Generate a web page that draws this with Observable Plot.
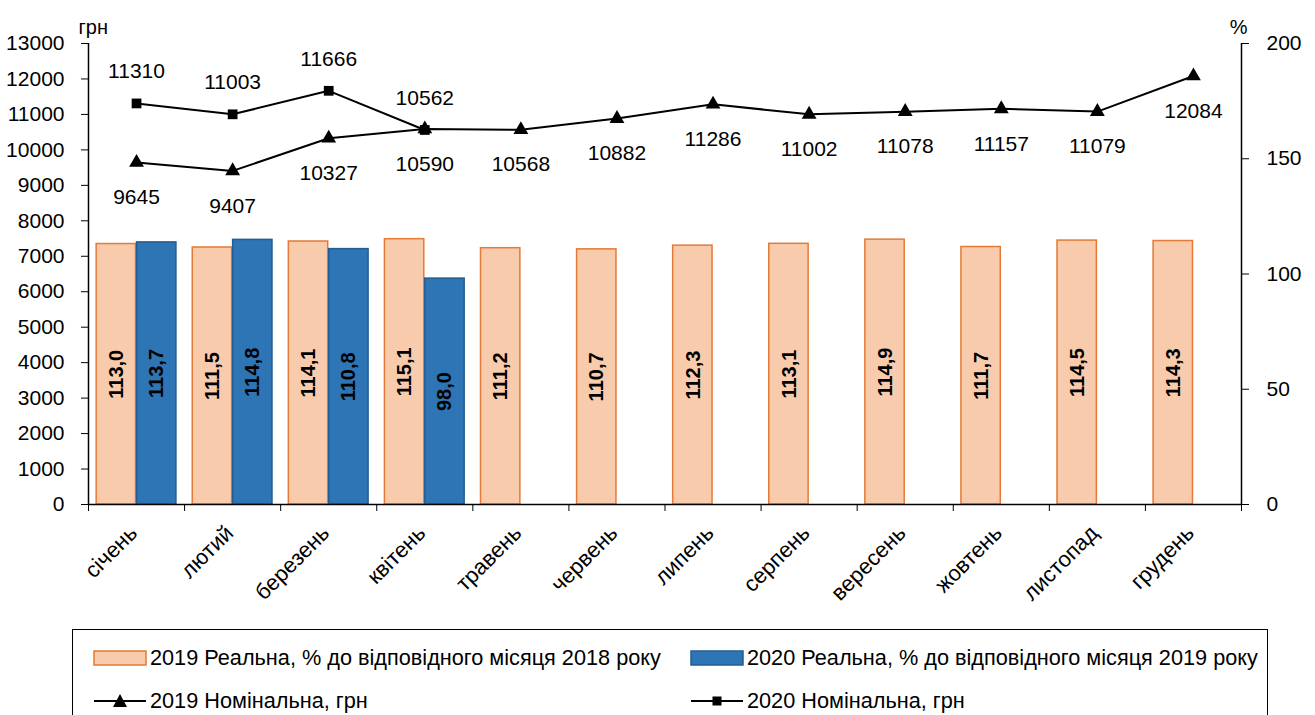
<!DOCTYPE html>
<html><head><meta charset="utf-8">
<script src="https://cdn.jsdelivr.net/npm/d3@7"></script>
<script src="https://cdn.jsdelivr.net/npm/@observablehq/plot@0.6"></script>
<style>
body{margin:0;background:#fff;font-family:"Liberation Sans",Arial,sans-serif;}
#chart svg{display:block;}
#legend{position:relative;margin-left:72px;margin-top:4px;width:1196px;height:100px;border:1.5px solid #000;border-bottom:none;box-sizing:border-box;font-size:21.7px;color:#000;}
.item{position:absolute;display:flex;align-items:center;white-space:nowrap;}
.item svg{margin-right:3px;display:block;}
</style></head><body>
<div id="chart"></div>
<div id="legend"></div>
<script>
const months = ["січень","лютий","березень","квітень","травень","червень","липень","серпень","вересень","жовтень","листопад","грудень"];
const real2019 = [113.0,111.5,114.1,115.1,111.2,110.7,112.3,113.1,114.9,111.7,114.5,114.3];
const real2020 = [113.7,114.8,110.8,98.0];
const nom2019 = [9645,9407,10327,10590,10568,10882,11286,11002,11078,11157,11079,12084];
const nom2020 = [11310,11003,11666,10562];
const leftTicks = d3.range(0, 13001, 1000);
const rightTicks = [0,50,100,150,200];
const legendLabels = ["2019 Реальна, % до відповідного місяця 2018 року","2020 Реальна, % до відповідного місяця 2019 року","2019 Номінальна, грн","2020 Номінальна, грн"];

const W = 1315, H = 625, mL = 88, mR = 74, mT = 43, mB = 121;
const k = 13000 / 200; // % -> грн on shared y scale
const step = (W - mL - mR) / months.length;
const pIn = 0.17;
const bw = step * (1 - pIn);
const c2019 = "#F8CBAD", s2019 = "#E47A36", c2020 = "#2E75B6", s2020 = "#235C91";

const r19 = real2019.map((v, i) => ({m: months[i], v}));
const r20 = real2020.map((v, i) => ({m: months[i], v}));
const n19 = nom2019.map((v, i) => ({m: months[i], v}));
const n20 = nom2020.map((v, i) => ({m: months[i], v}));
const fmt = v => v.toFixed(1).replace(".", ",");

const chart = Plot.plot({
  width: W, height: H,
  marginLeft: mL, marginRight: mR, marginTop: mT, marginBottom: mB,
  style: {fontFamily: "'Liberation Sans', Arial, sans-serif", fontSize: "21px", color: "#000", background: "#fff"},
  x: {domain: months, paddingInner: pIn, paddingOuter: pIn / 2, round: false},
  y: {domain: [0, 13000]},
  marks: [
    Plot.barY(r19, {x: "m", y: d => d.v * k, fill: c2019, stroke: s2019, strokeWidth: 1.5, insetRight: bw / 2 + 0.5}),
    Plot.barY(r20, {x: "m", y: d => d.v * k, fill: c2020, stroke: s2020, strokeWidth: 1.5, insetLeft: bw / 2 + 0.5}),
    Plot.text(r19, {x: "m", y: d => d.v * k / 2, text: d => fmt(d.v), rotate: -90, dx: -bw / 4, fontWeight: "bold", fontSize: 20}),
    Plot.text(r20, {x: "m", y: d => d.v * k / 2, text: d => fmt(d.v), rotate: -90, dx: bw / 4, fontWeight: "bold", fontSize: 20}),
    Plot.ruleY([0], {stroke: "#000", strokeWidth: 1.5}),
    Plot.ruleX([months[0]], {x: d => d, y1: 0, y2: 13000, dx: -step / 2, stroke: "#000", strokeWidth: 1.5}),
    Plot.ruleX([months[months.length - 1]], {x: d => d, y1: 0, y2: 13000, dx: step / 2, stroke: "#000", strokeWidth: 1.5}),
    Plot.axisY({anchor: "left", ticks: leftTicks, tickFormat: v => String(v), tickSize: 7, tickPadding: 17, label: null, fontSize: 21}),
    Plot.axisY({anchor: "right", ticks: rightTicks.map(v => v * k), tickFormat: v => String(Math.round(v / k)), tickSize: 7, tickPadding: 18, label: null, fontSize: 21}),
    Plot.axisX({ticks: months, tickFormat: () => "", tickSize: 7, dx: -step / 2, label: null}),
    Plot.axisX({ticks: [months[months.length - 1]], tickFormat: () => "", tickSize: 7, dx: step / 2, label: null}),
    Plot.axisX({tickSize: 0, tickRotate: -45, tickPadding: 25, dx: -3, label: null, fontSize: 22}),
    Plot.line(n19, {x: "m", y: "v", stroke: "#000", strokeWidth: 2}),
    Plot.line(n20, {x: "m", y: "v", stroke: "#000", strokeWidth: 2}),
    Plot.dot(n19, {x: "m", y: "v", symbol: "triangle", r: 5.5, fill: "#000"}),
    Plot.dot(n20, {x: "m", y: "v", symbol: "square", r: 5.5, fill: "#000"}),
    Plot.text(n19, {x: "m", y: "v", text: d => String(d.v), dy: 35, fontSize: 21}),
    Plot.text(n20, {x: "m", y: "v", text: d => String(d.v), dy: -32, fontSize: 21}),
    Plot.text(["грн"], {frameAnchor: "top-left", dx: -10, dy: -24, fontSize: 20}),
    Plot.text(["%"], {frameAnchor: "top-right", dx: 6, dy: -24, fontSize: 20})
  ]
});
document.getElementById("chart").appendChild(chart);

const legend = document.getElementById("legend");
const sw = {
  bar19: `<svg width="54" height="18"><rect x="1" y="2" width="52" height="14" fill="${c2019}" stroke="${s2019}" stroke-width="1.5"/></svg>`,
  bar20: `<svg width="54" height="18"><rect x="1" y="2" width="52" height="14" fill="${c2020}" stroke="${s2020}" stroke-width="1.5"/></svg>`,
  line19: `<svg width="54" height="18"><line x1="1" y1="9" x2="53" y2="9" stroke="#000" stroke-width="2"/><path d="M27,2 L34,15 L20,15 Z" fill="#000"/></svg>`,
  line20: `<svg width="54" height="18"><line x1="1" y1="9" x2="53" y2="9" stroke="#000" stroke-width="2"/><rect x="22.5" y="4.5" width="9" height="9" fill="#000"/></svg>`
};
const items = [
  {s: sw.bar19, t: legendLabels[0], left: 20, top: 28},
  {s: sw.bar20, t: legendLabels[1], left: 617, top: 28},
  {s: sw.line19, t: legendLabels[2], left: 20, top: 71},
  {s: sw.line20, t: legendLabels[3], left: 617, top: 71}
];
for (const it of items) {
  const d = document.createElement("div");
  d.className = "item";
  d.style.left = it.left + "px";
  d.style.top = (it.top - 13) + "px";
  d.innerHTML = it.s + `<span>${it.t}</span>`;
  legend.appendChild(d);
}
</script>
</body></html>
